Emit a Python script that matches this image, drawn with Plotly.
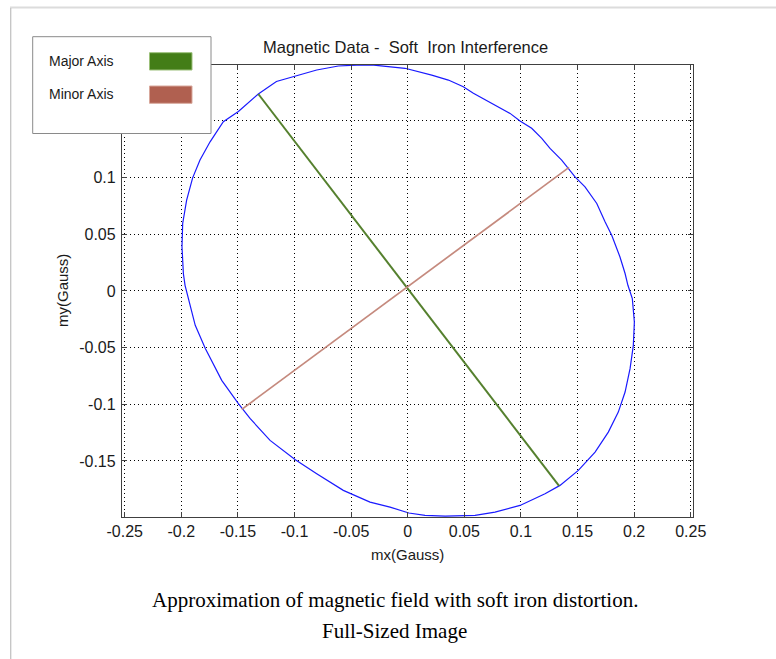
import plotly.graph_objects as go

# ---------------- data ----------------
ellipse_mx = [-0.0024, -0.0156, -0.030, -0.045, -0.0613, -0.0804, -0.0996, -0.116, -0.132,
              -0.1496, -0.1629, -0.1746, -0.1835, -0.190, -0.1953, -0.1988, -0.1994, -0.1982,
              -0.1967, -0.1938, -0.1877, -0.1789, -0.1717, -0.1643, -0.1496, -0.1393, -0.1216,
              -0.0996, -0.0804, -0.0569, -0.0333, -0.0156, 0.001, 0.0153, 0.033, 0.0595,
              0.0771, 0.0992, 0.1213, 0.1345, 0.1507, 0.1655, 0.1772, 0.186, 0.192, 0.1964,
              0.1993, 0.2002, 0.1984, 0.1945, 0.192, 0.1875, 0.1802, 0.1743, 0.167, 0.1566,
              0.1478, 0.136, 0.1257, 0.1184, 0.1095, 0.0992, 0.0904, 0.0712, 0.058, 0.0491,
              0.0359, 0.0212, 0.0094, -0.0024]
ellipse_my = [0.1965, 0.198, 0.1993, 0.1993, 0.1985, 0.195, 0.1897, 0.1849, 0.1738,
              0.1584, 0.1493, 0.1316, 0.1155, 0.0998, 0.0801, 0.0595, 0.039, 0.0154,
              0.005, -0.0067, -0.0303, -0.0506, -0.0641, -0.0789, -0.0995, -0.1125, -0.1319,
              -0.1487, -0.1613, -0.176, -0.1864, -0.1908, -0.196, -0.1981, -0.1988, -0.1981,
              -0.1952, -0.1893, -0.179, -0.1716, -0.1584, -0.1422, -0.1246, -0.1069, -0.0892, -0.0686,
              -0.048, -0.0274, -0.0067, 0.005, 0.0154, 0.030, 0.0492, 0.061, 0.0772, 0.0919,
              0.1007, 0.1155, 0.1258, 0.1346, 0.1435, 0.1499, 0.1567, 0.167, 0.1744, 0.1802,
              0.1861, 0.1905, 0.1935, 0.1965]

major_mx = [-0.132, 0.1337]
major_my = [0.1738, -0.172]
minor_mx = [-0.1466, 0.1425]
minor_my = [-0.1045, 0.109]

x_ticks = [-0.25, -0.2, -0.15, -0.1, -0.05, 0, 0.05, 0.1, 0.15, 0.2, 0.25]
x_tick_labels = ["-0.25", "-0.2", "-0.15", "-0.1", "-0.05", "0", "0.05", "0.1", "0.15", "0.2", "0.25"]
y_ticks = [-0.15, -0.1, -0.05, 0, 0.05, 0.1, 0.15]
y_tick_labels = ["-0.15", "-0.1", "-0.05", "0", "0.05", "0.1", "0.15"]

legend_labels = ["Major Axis", "Minor Axis"]
title_text = "Magnetic Data -\u00a0 Soft\u00a0 Iron Interference"
x_title = "mx(Gauss)"
y_title = "my(Gauss)"
caption_1 = "Approximation of magnetic field with soft iron distortion."
caption_2 = "Full-Sized Image"

# ---------------- layout geometry ----------------
W, H = 776, 659
L, R, T, B = 122, 83, 65, 142
PW, PH = W - L - R, H - T - B


def px(x):
    return (x - L) / PW


def py(y):
    return (H - B - y) / PH


SANS = "Liberation Sans, Arial, sans-serif"
SERIF = "Liberation Serif, Times New Roman, serif"
AX = "#404040"
GREEN = "#437d17"
RED = "#b06050"

fig = go.Figure()
fig.add_trace(go.Scatter(x=ellipse_mx, y=ellipse_my, mode="lines",
                         line=dict(color="#1a1aff", width=1.2), showlegend=False))
fig.add_trace(go.Scatter(x=major_mx, y=major_my, mode="lines",
                         line=dict(color="#55802e", width=2), showlegend=False))
fig.add_trace(go.Scatter(x=minor_mx, y=minor_my, mode="lines",
                         line=dict(color="#c58a7e", width=1.7), showlegend=False))

axis_common = dict(
    ticks="inside", ticklen=5, tickcolor=AX, tickwidth=1,
    showline=True, linecolor=AX, linewidth=1.3, mirror="ticks",
    showgrid=True, gridcolor="#000000", gridwidth=1, griddash="1px,3px",
    zeroline=False, tickfont=dict(family=SANS, size=16, color="#1a1a1a"),
    fixedrange=True,
)

fig.update_layout(
    width=W, height=H,
    margin=dict(l=L, r=R, t=T, b=B),
    paper_bgcolor="white", plot_bgcolor="white",
    xaxis=dict(range=[-0.2524, 0.2520], tickvals=x_ticks, ticktext=x_tick_labels,
               ticklabelstandoff=0, **axis_common),
    yaxis=dict(range=[-0.1995, 0.1994], tickvals=y_ticks, ticktext=y_tick_labels,
               ticklabelstandoff=2, **axis_common),
    showlegend=False,
)

shapes = []
# page frame lines
shapes.append(dict(type="line", xref="paper", yref="paper", x0=px(10), x1=px(776), y0=py(7.5), y1=py(7.5),
                   line=dict(color="#dcdcdc", width=2), layer="above"))
shapes.append(dict(type="line", xref="paper", yref="paper", x0=px(10.7), x1=px(10.7), y0=py(8), y1=py(659),
                   line=dict(color="#c4c4c4", width=1.3), layer="above"))
# legend box
shapes.append(dict(type="rect", xref="paper", yref="paper", x0=px(32.7), x1=px(211), y0=py(36.7), y1=py(133.5),
                   fillcolor="white", line=dict(color="#8a8a8a", width=1), layer="above"))
# swatches
shapes.append(dict(type="rect", xref="paper", yref="paper", x0=px(149.5), x1=px(192), y0=py(52.7), y1=py(70),
                   fillcolor=GREEN, line=dict(color="#9cc07a", width=1), layer="above"))
shapes.append(dict(type="rect", xref="paper", yref="paper", x0=px(149.5), x1=px(192), y0=py(86), y1=py(103.3),
                   fillcolor=RED, line=dict(color="#d8a89c", width=1), layer="above"))

annotations = []
annotations.append(dict(text=legend_labels[0], xref="paper", yref="paper", x=px(46.5), y=py(61),
                        xanchor="left", yanchor="middle", showarrow=False,
                        font=dict(family=SANS, size=14, color="#1a1a1a")))
annotations.append(dict(text=legend_labels[1], xref="paper", yref="paper", x=px(46.5), y=py(94.5),
                        xanchor="left", yanchor="middle", showarrow=False,
                        font=dict(family=SANS, size=14, color="#1a1a1a")))
annotations.append(dict(text=title_text, xref="paper", yref="paper", x=px(405), y=py(46.5),
                        xanchor="center", yanchor="middle", showarrow=False,
                        font=dict(family=SANS, size=16.5, color="#1a1a1a")))
annotations.append(dict(text=x_title, xref="paper", yref="paper", x=px(407), y=py(554),
                        xanchor="center", yanchor="middle", showarrow=False,
                        font=dict(family=SANS, size=15, color="#1a1a1a")))
annotations.append(dict(text=y_title, xref="paper", yref="paper", x=px(62), y=py(291),
                        xanchor="center", yanchor="middle", showarrow=False, textangle=-90,
                        font=dict(family=SANS, size=15, color="#1a1a1a")))
annotations.append(dict(text=caption_1, xref="paper", yref="paper", x=px(394.5), y=py(600),
                        xanchor="center", yanchor="middle", showarrow=False,
                        font=dict(family=SERIF, size=21, color="#000000")))
annotations.append(dict(text=caption_2, xref="paper", yref="paper", x=px(394.5), y=py(631),
                        xanchor="center", yanchor="middle", showarrow=False,
                        font=dict(family=SERIF, size=21, color="#000000")))

fig.update_layout(shapes=shapes, annotations=annotations)
fig.write_html("out.html", config={"displayModeBar": False},
               post_script="document.body.style.margin='0px';document.body.style.padding='0px';")
